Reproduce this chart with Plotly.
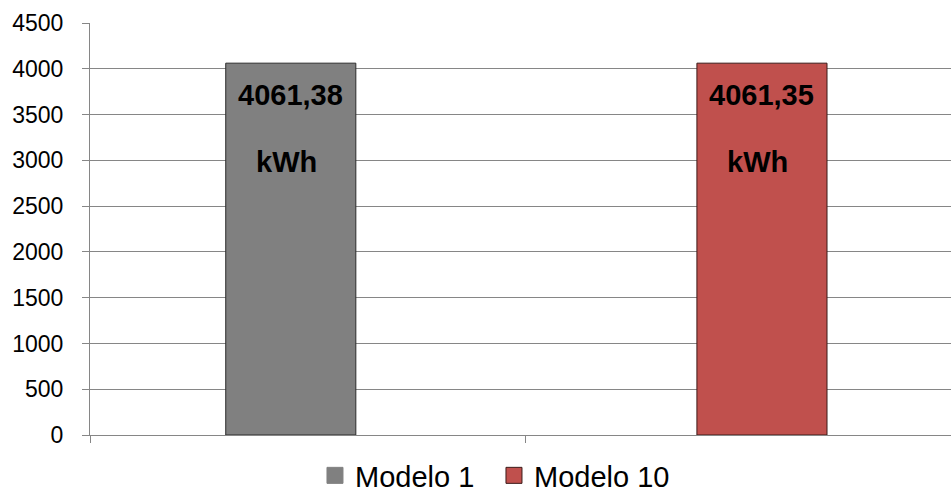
import plotly.graph_objects as go

series = ["Modelo 1", "Modelo 10"]
values = [4061.38, 4061.35]
unit = "kWh"
colors = ["#808080", "#C0504D"]
outline = ["#2b2b2b", "#3b1a19"]
legend_outline = ["#808080", "#3b1a19"]
offsets = [-0.188, -0.105]
bar_width = 0.299
y_ticks = [0, 500, 1000, 1500, 2000, 2500, 3000, 3500, 4000, 4500]
FONT = "Liberation Sans, Arial"

fig = go.Figure()
for i, (name, v) in enumerate(zip(series, values)):
    fig.add_trace(go.Bar(
        x=[i], y=[v], name=name, showlegend=False,
        width=bar_width, offset=offsets[i],
        marker=dict(color=colors[i], line=dict(color=outline[i], width=1)),
        hoverinfo="skip",
    ))
    # legend proxy with a square swatch
    fig.add_trace(go.Scatter(
        x=[None], y=[None], mode="markers", name=name,
        marker=dict(symbol="square", size=16, color=colors[i],
                    line=dict(color=legend_outline[i], width=1)),
    ))
    label = f"{v:.2f}".replace(".", ",")
    cx = i + offsets[i] + bar_width / 2
    fig.add_annotation(x=cx, y=v, xref="x", yref="y", text=f"<b>{label}</b>",
                       showarrow=False, yshift=-32, xshift=0,
                       font=dict(family=FONT, size=29, color="black"))
    fig.add_annotation(x=cx, y=v, xref="x", yref="y", text=f"<b>{unit}</b>",
                       showarrow=False, yshift=-99, xshift=-4,
                       font=dict(family=FONT, size=29, color="black"))

fig.update_layout(
    width=951, height=501,
    margin=dict(l=90, r=0, t=23, b=66, autoexpand=False),
    paper_bgcolor="white", plot_bgcolor="white",
    barmode="overlay",
    font=dict(family=FONT, size=23, color="black"),
    showlegend=True,
    legend=dict(orientation="h", xref="container", yref="container",
                x=0.3312, xanchor="left", y=-0.012, yanchor="bottom",
                font=dict(size=29), itemsizing="trace", itemwidth=30,
                entrywidth=134, entrywidthmode="pixels",
                traceorder="normal", bgcolor="rgba(0,0,0,0)"),
    xaxis=dict(range=[-0.5, 1.479], showgrid=False, zeroline=False,
               showline=True, linecolor="#868686", linewidth=1,
               ticks="outside", ticklen=7, tickcolor="#868686",
               tickvals=[-0.5, 0.5, 1.5], showticklabels=False, automargin=False),
    yaxis=dict(range=[0, 4500], tickvals=y_ticks, showgrid=True, gridcolor="#868686",
               gridwidth=1, zeroline=False, showline=True, linecolor="#868686",
               linewidth=1, ticks="outside", ticklen=7, tickcolor="#868686",
               ticklabelstandoff=14, automargin=False,
               tickfont=dict(size=23)),
)

fig.write_html(
    "out.html",
    config={"displayModeBar": False},
    post_script="document.body.style.margin='0';document.body.style.overflow='hidden';",
)
